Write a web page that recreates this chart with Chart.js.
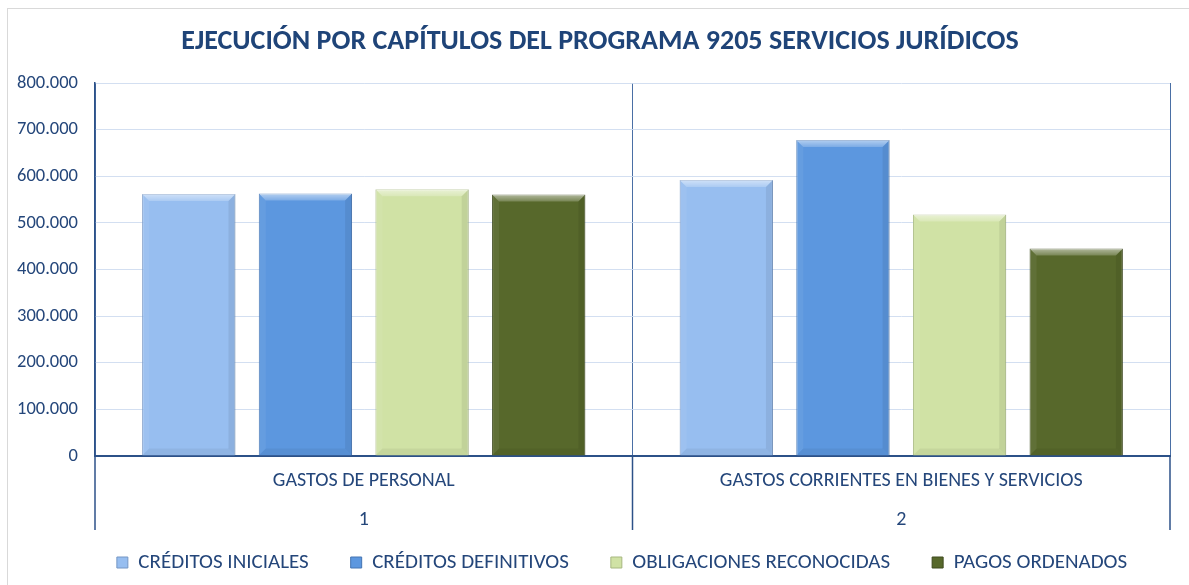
<!DOCTYPE html>
<html>
<head>
<meta charset="utf-8">
<script src="https://cdn.jsdelivr.net/npm/chart.js@4.4.1/dist/chart.umd.min.js"></script>
<style>
  html, body { margin: 0; padding: 0; background: #ffffff; }
  #frame { position: absolute; left: 7px; top: 8px; width: 1182px; height: 577px;
           border-left: 1px solid #d9d9d9; border-top: 1px solid #d9d9d9; }
  #c { display: block; }
</style>
</head>
<body>
<div id="frame"><canvas id="c" width="1181" height="576"></canvas></div>
<script>
// ---- data ----
const categoryNames = ['GASTOS DE PERSONAL', 'GASTOS CORRIENTES EN BIENES Y SERVICIOS'];
const chapterCodes = ['1', '2'];
const seriesNames = ['CRÉDITOS INICIALES', 'CRÉDITOS DEFINITIVOS', 'OBLIGACIONES RECONOCIDAS', 'PAGOS ORDENADOS'];
const creditosIniciales = [562000, 592000];
const creditosDefinitivos = [563000, 678000];
const obligacionesReconocidas = [572000, 518000];
const pagosOrdenados = [561000, 445000];
const titleText = 'EJECUCIÓN POR CAPÍTULOS DEL PROGRAMA 9205 SERVICIOS JURÍDICOS';

// ---- styles ----
const FONT = 'Carlito, Calibri, Lato, "Open Sans", sans-serif';
const TEXT = '#24467A';
const fills = ['#97BEF0', '#5C97DF', '#D0E2A5', '#57682B'];
const borders = ['#7596C4', '#4474B2', '#A7B880', '#3E4A1E'];

const labels = categoryNames.map((n, i) => [n, chapterCodes[i]]);
const values = [creditosIniciales, creditosDefinitivos, obligacionesReconocidas, pagosOrdenados];

const bevel = {
  id: 'bevel',
  afterDatasetsDraw(chart) {
    const ctx = chart.ctx;
    ctx.save();
    chart.data.datasets.forEach((ds, di) => {
      const meta = chart.getDatasetMeta(di);
      meta.data.forEach(bar => {
        const p = bar.getProps(['x', 'y', 'base', 'width'], true);
        const l = p.x - p.width / 2, r = p.x + p.width / 2, t = p.y, b = p.base;
        const d = 7;
        const g = ctx.createLinearGradient(0, t, 0, t + d);
        g.addColorStop(0, 'rgba(255,255,255,0.55)');
        g.addColorStop(1, 'rgba(255,255,255,0.2)');
        ctx.fillStyle = g;
        ctx.beginPath(); ctx.moveTo(l, t); ctx.lineTo(r, t); ctx.lineTo(r - d, t + d); ctx.lineTo(l + d, t + d); ctx.closePath(); ctx.fill();
        ctx.fillStyle = 'rgba(0,0,0,0.07)';
        ctx.beginPath(); ctx.moveTo(r, t); ctx.lineTo(r, b); ctx.lineTo(r - d, b - d); ctx.lineTo(r - d, t + d); ctx.closePath(); ctx.fill();
        ctx.fillStyle = 'rgba(255,255,255,0.06)';
        ctx.beginPath(); ctx.moveTo(l, t); ctx.lineTo(l, b); ctx.lineTo(l + d, b - d); ctx.lineTo(l + d, t + d); ctx.closePath(); ctx.fill();
        ctx.fillStyle = 'rgba(0,0,0,0.05)';
        ctx.beginPath(); ctx.moveTo(l, b); ctx.lineTo(r, b); ctx.lineTo(r - d, b - d); ctx.lineTo(l + d, b - d); ctx.closePath(); ctx.fill();
      });
    });
    ctx.restore();
  }
};

const separators = {
  id: 'separators',
  afterLayout(chart) {
    chart.legend.left += 33; chart.legend.right += 33;
    chart.titleBlock.left += 11; chart.titleBlock.right += 11;
  },
  afterDraw(chart) {
    const x = chart.scales.x, ctx = chart.ctx;
    const n = chart.data.labels.length;
    const half = x.width / n / 2;
    ctx.save();
    ctx.strokeStyle = '#2C5188';
    ctx.lineWidth = 1.5;
    const positions = [];
    for (let i = 0; i < n; i++) positions.push(x.getPixelForValue(i) - half);
    positions.push(x.getPixelForValue(n - 1) + half);
    positions.forEach(px => {
      ctx.beginPath(); ctx.moveTo(px, x.top); ctx.lineTo(px, x.top + 74); ctx.stroke();
    });
    ctx.restore();
  }
};

new Chart(document.getElementById('c'), {
  type: 'bar',
  data: {
    labels: labels,
    datasets: seriesNames.map((name, i) => ({
      label: name,
      data: values[i],
      backgroundColor: fills[i],
      borderColor: borders[i],
      borderWidth: 1,
      categoryPercentage: 0.868,
      barPercentage: 0.80
    }))
  },
  options: {
    responsive: false,
    animation: false,
    layout: { padding: { left: 0, right: 19, top: 0, bottom: 2 } },
    plugins: {
      title: {
        display: true, text: titleText, color: '#1F4478',
        font: { family: FONT, size: 28, weight: 'bold' },
        padding: { top: 16.2, bottom: 24.2 }
      },
      legend: {
        position: 'bottom',
        labels: {
          color: TEXT, boxWidth: 11, boxHeight: 11, padding: 42,
          font: { family: FONT, size: 21 }
        }
      },
      tooltip: { enabled: false }
    },
    scales: {
      x: {
        grid: { display: true, offset: true, drawTicks: false, color: '#4A6FA5', lineWidth: 1 },
        border: { display: true, color: '#2C5188', width: 2 },
        ticks: { color: TEXT, padding: 5.5, maxRotation: 0, font: { family: FONT, size: 20, lineHeight: 1.95 } },
        afterFit(s) {
          s.height = 54;
          // the two label rows reach into the empty top band of the legend: do not clip them to the axis box
          s._computeLabelArea = () => undefined;
        }
      },
      y: {
        min: 0, max: 800000,
        grid: { color: '#D3DFF1', drawTicks: false, lineWidth: 1 },
        border: { display: true, color: '#2C5188', width: 1.5 },
        ticks: {
          stepSize: 100000, color: TEXT, padding: 17,
          font: { family: FONT, size: 18.5 },
          callback: v => v === 0 ? '0' : v.toLocaleString('de-DE')
        },
        afterFit(s) { s.width = 87; }
      }
    }
  },
  plugins: [bevel, separators]
});
</script>
</body>
</html>
